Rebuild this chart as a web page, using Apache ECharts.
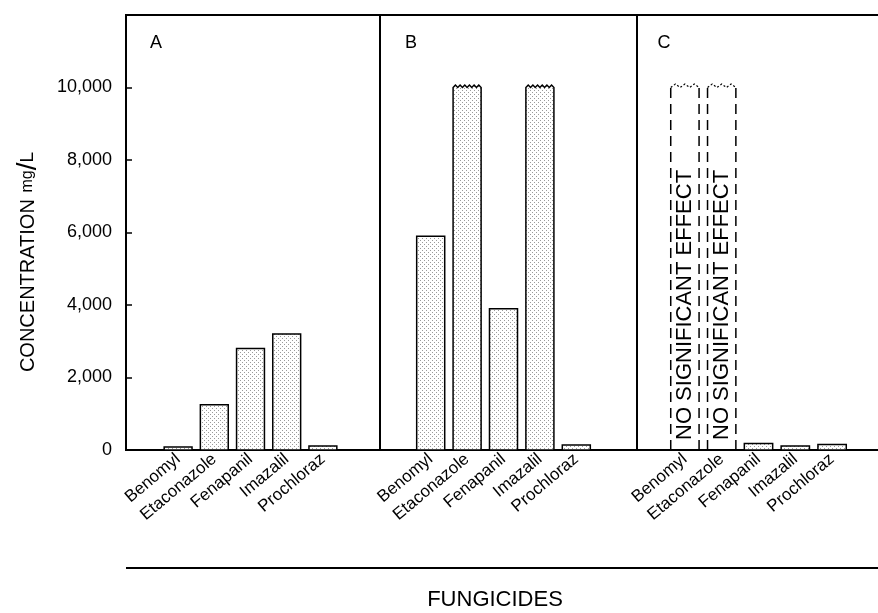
<!DOCTYPE html>
<html><head><meta charset="utf-8">
<script src="https://cdn.jsdelivr.net/npm/echarts@6/dist/echarts.min.js"></script>
<style>html,body{margin:0;padding:0;background:#fff}#c{width:878px;height:613px}</style>
</head><body><div id="c"></div>
<script>
// ---------- data ----------
const categories = ['Benomyl', 'Etaconazole', 'Fenapanil', 'Imazalil', 'Prochloraz'];
const panelNames = ['A', 'B', 'C'];
const valuesA = [80, 1250, 2800, 3200, 110];
const valuesB = [5900, 10000, 3900, 10000, 140];
const valuesC = [10000, 10000, 180, 110, 150];
// 0 = plain bar, 1 = off-scale bar (broken top), 2 = no significant effect (dashed box)
const kindA = [0, 0, 0, 0, 0];
const kindB = [0, 1, 0, 1, 0];
const kindC = [2, 2, 0, 0, 0];
const yTickLabels = [0, 2000, 4000, 6000, 8000, 10000];
const yMax = 12000;
const yStep = 2000;
const noEffectText = 'NO SIGNIFICANT EFFECT';
const yTitle = 'CONCENTRATION';
const yUnit = ['mg', '/', 'L'];
const xTitle = 'FUNGICIDES';

// ---------- style ----------
const FONT = '"Liberation Sans", Arial, sans-serif';
const tile = document.createElement('canvas');
tile.width = 4; tile.height = 4;
const g = tile.getContext('2d');
g.fillStyle = '#ffffff'; g.fillRect(0, 0, 4, 4);
g.fillStyle = '#9a9a9a'; g.fillRect(0, 0, 1, 1); g.fillRect(2, 2, 1, 1);
const stipple = { image: tile, repeat: 'repeat' };

function renderBar(params, api) {
  const i = api.value(0), v = api.value(1), k = api.value(2);
  const p0 = api.coord([i, 0]);
  const p1 = api.coord([i, v]);
  const w = api.size([1, 0])[0] * 0.77;
  const xl = p0[0] - w / 2, xr = p0[0] + w / 2, yb = p0[1], yt = p1[1];
  if (k === 0) {
    return { type: 'rect', shape: { x: xl, y: yt, width: w, height: yb - yt },
      style: { fill: stipple, stroke: '#000', lineWidth: 1.5 } };
  }
  const teeth = k === 1 ? 6 : 3;
  const top = [[xl, yt]];
  for (let t = 0; t < teeth; t++) {
    top.push([xl + w * (t + 0.5) / teeth, yt - (k === 1 ? 2.5 : 3.5)]);
    top.push([xl + w * (t + 1) / teeth, yt]);
  }
  if (k === 1) {
    const pts = [[xl, yb]].concat(top).concat([[xr, yb]]);
    return { type: 'polygon', shape: { points: pts },
      style: { fill: stipple, stroke: '#000', lineWidth: 1.5 } };
  }
  return { type: 'group', children: [
    { type: 'line', shape: { x1: xl, y1: yb, x2: xl, y2: yt },
      style: { stroke: '#000', lineWidth: 1.5, lineDash: [10, 6] } },
    { type: 'line', shape: { x1: xr, y1: yb, x2: xr, y2: yt },
      style: { stroke: '#000', lineWidth: 1.5, lineDash: [10, 6] } },
    { type: 'polyline', shape: { points: top },
      style: { stroke: '#000', lineWidth: 1.2, lineDash: [2, 2], fill: null } },
    { type: 'text', x: p0[0], y: yb - 10, rotation: Math.PI / 2,
      style: { text: noEffectText, fill: '#000', font: '22px ' + FONT,
        textAlign: 'left', align: 'left', textVerticalAlign: 'middle', verticalAlign: 'middle' } }
  ] };
}

const chart = echarts.init(document.getElementById('c'), null, { renderer: 'canvas' });
const TOP = 15, BOTTOM = 163;
const frameGrids = [
  { left: 126, width: 254, border: true },
  { left: 380, width: 257, border: true },
  { left: 637, right: 0, border: false }
];
const barGrids = [
  { left: 160, width: 181 },
  { left: 412.5, width: 182 },
  { left: 666.5, width: 184 }
];
const grids = frameGrids.map(f => Object.assign({ left: f.left, top: TOP, bottom: BOTTOM, show: f.border,
    borderColor: '#000', borderWidth: 2, backgroundColor: 'transparent', containLabel: false },
    f.width !== undefined ? { width: f.width } : { right: f.right }))
  .concat(barGrids.map(b => ({ left: b.left, width: b.width, top: TOP, bottom: BOTTOM, containLabel: false })));

const lineAxis = { show: true, lineStyle: { color: '#000', width: 2 } };
const xAxes = [], yAxes = [];
frameGrids.forEach((f, p) => {
  if (f.border) {
    xAxes.push({ type: 'value', gridIndex: p, show: false });
  } else {
    xAxes.push({ type: 'value', gridIndex: p, position: 'bottom', axisLine: lineAxis,
      axisTick: { show: false }, axisLabel: { show: false }, splitLine: { show: false } });
    xAxes.push({ type: 'value', gridIndex: p, position: 'top', axisLine: lineAxis,
      axisTick: { show: false }, axisLabel: { show: false }, splitLine: { show: false } });
  }
  yAxes.push({ type: 'value', gridIndex: p, min: 0, max: yMax, interval: yStep,
    show: p === 0 || !f.border,
    axisLine: f.border ? { show: false } : lineAxis,
    axisTick: { show: p === 0, inside: true, length: 6, lineStyle: { color: '#000', width: 1.5 } },
    splitLine: { show: false },
    axisLabel: { show: p === 0, color: '#000', fontSize: 18, fontFamily: FONT, margin: 14,
      formatter: v => yTickLabels.includes(v) ? v.toLocaleString('en-US') : '' } });
});
const barXStart = xAxes.length;
barGrids.forEach((b, p) => {
  xAxes.push({ type: 'category', gridIndex: 3 + p, data: categories,
    axisLine: { show: false }, axisTick: { show: false },
    axisLabel: { interval: 0, rotate: 40, color: '#000', fontSize: 17, fontFamily: FONT, margin: 7 } });
  yAxes.push({ type: 'value', gridIndex: 3 + p, min: 0, max: yMax, interval: yStep, show: false });
});

const panels = [[valuesA, kindA], [valuesB, kindB], [valuesC, kindC]];
const series = panels.map((pd, p) => ({
  type: 'custom', name: panelNames[p], xAxisIndex: barXStart + p, yAxisIndex: 3 + p,
  renderItem: renderBar, encode: { x: 0, y: 1 }, clip: false,
  data: categories.map((c, i) => [i, pd[0][i], pd[1][i]])
}));

const letterX = [156, 411, 664];
const graphic = panelNames.map((n, p) => ({ type: 'text', x: letterX[p], y: 43,
    style: { text: n, font: '18px ' + FONT, fill: '#000', align: 'center', verticalAlign: 'middle' } }))
  .concat([
    { type: 'text', x: 28, y: 262, rotation: Math.PI / 2,
      style: { text: '{a|' + yTitle + '}  {b|' + yUnit[0] + '}{c|' + yUnit[1] + '}{d|' + yUnit[2] + '}',
        align: 'center', verticalAlign: 'middle', fill: '#000',
        rich: { a: { fontSize: 20, fontFamily: FONT }, b: { fontSize: 16, fontFamily: FONT },
                c: { fontSize: 28, fontFamily: FONT }, d: { fontSize: 19, fontFamily: FONT } } } },
    { type: 'line', shape: { x1: 126, y1: 568, x2: 878, y2: 568 }, style: { stroke: '#000', lineWidth: 2 } },
    { type: 'text', x: 495, y: 600,
      style: { text: xTitle, font: '22px ' + FONT, fill: '#000', align: 'center', verticalAlign: 'middle' } }
  ]);

chart.setOption({
  backgroundColor: '#fff',
  animation: false,
  grid: grids, xAxis: xAxes, yAxis: yAxes, series: series, graphic: graphic
});
</script></body></html>
